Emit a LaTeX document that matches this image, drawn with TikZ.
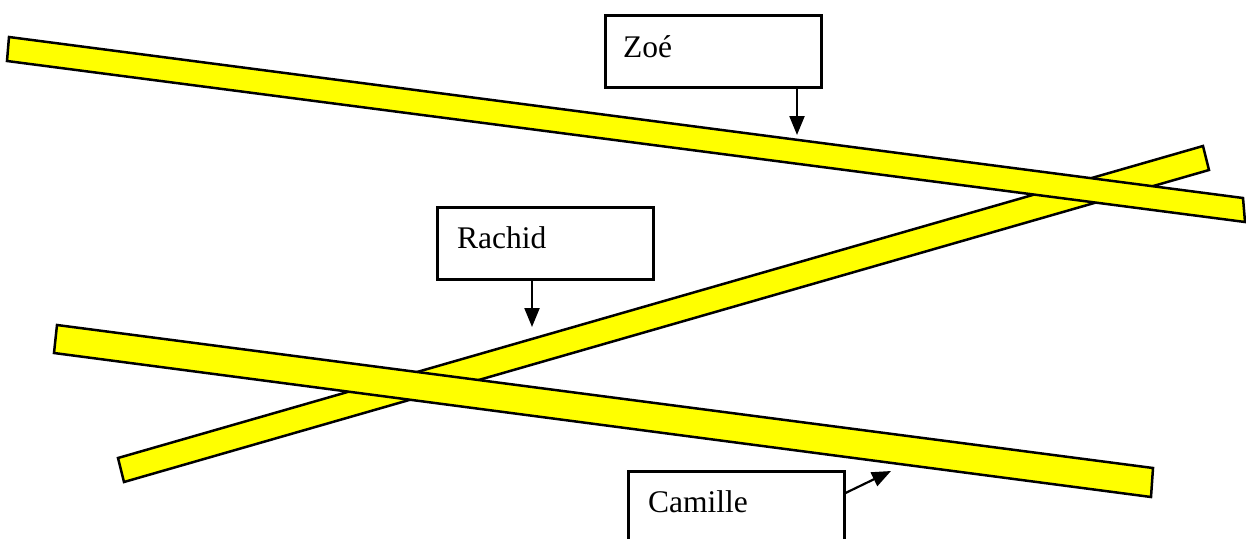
\documentclass[tikz,border=0pt]{standalone}
\usepackage{fontspec}
\setmainfont{Liberation Serif}
\usetikzlibrary{arrows.meta,calc}
\definecolor{barfill}{RGB}{255,255,0}
\begin{document}
\begin{tikzpicture}[x=1pt,y=-1pt,
  bar/.style={fill=barfill,draw=black,line width=2.5pt,line join=miter},
  box/.style={draw=black,line width=2.5pt,fill=white,inner sep=0pt},
  lbl/.style={anchor=base west,inner sep=0pt,font=\fontsize{31.5}{37}\selectfont},
  pointer/.style={line width=2.2pt,-{Triangle[length=19pt,width=15pt]}}]
\useasboundingbox (0,0) rectangle (1246,538);
\clip (0,0) rectangle (1246,538);
% rising bar (underneath)
\draw[bar] (118,458) -- (1203,146) -- (1209,170) -- (124,482) -- cycle;
% top descending bar
\draw[bar] (9,37) -- (1243,198) -- (1245,222) -- (7,61) -- cycle;
% lower descending bar
\draw[bar] (57,325) -- (1153,468) -- (1151,497) -- (54,353) -- cycle;
% boxes
\node[box,minimum width=216pt,minimum height=72pt,anchor=north west] (zoe) at (604,14) {};
\node[lbl] (zoetext) at (623,57) {Zoé};
\node[box,minimum width=216pt,minimum height=72pt,anchor=north west] (rachid) at (436,206) {};
\node[lbl] (rachidtext) at (457,248) {Rachid};
\node[box,minimum width=216pt,minimum height=72pt,anchor=north west] (camille) at (627,470) {};
\node[lbl] (camilletext) at (648,512) {Camille};
% pointers
\coordinate (zoetip) at (797,135);
\coordinate (rachidtip) at (532,327);
\coordinate (camilletip) at (891,471);
\draw[pointer] (zoe.south -| zoetip) -- (zoetip);
\draw[pointer] (rachid.south -| rachidtip) -- (rachidtip);
\draw[pointer] ($(camille.north east)+(0,23)$) -- (camilletip);
\end{tikzpicture}
\end{document}
